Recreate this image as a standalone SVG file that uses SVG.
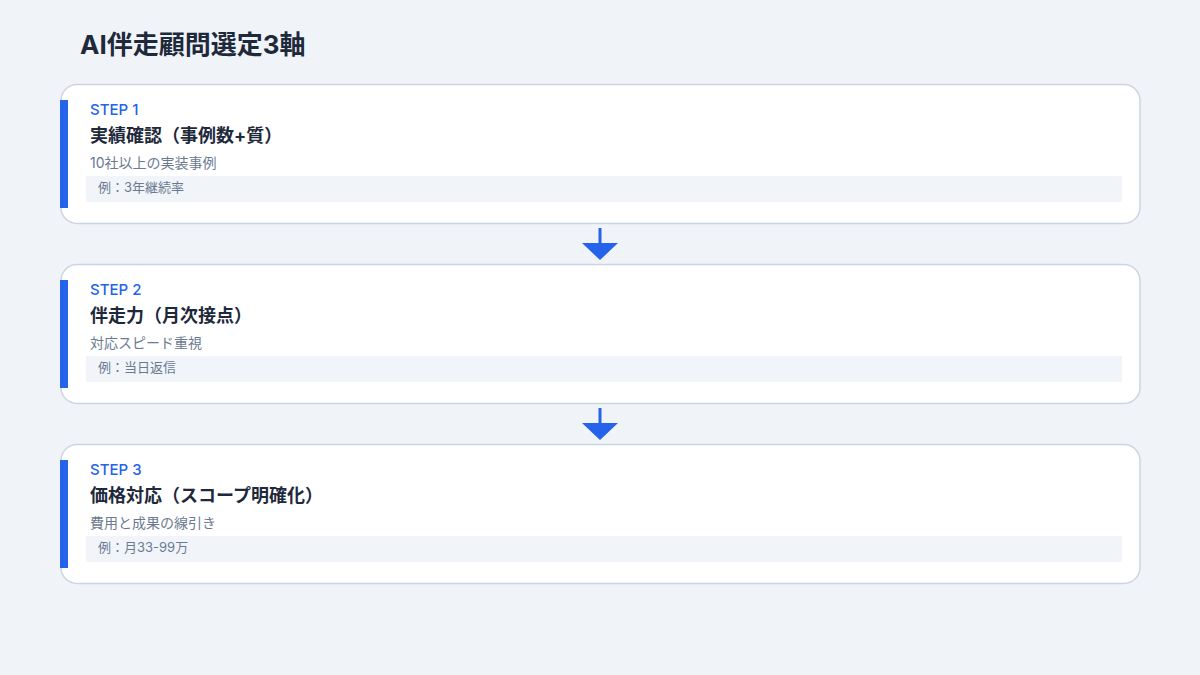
<svg xmlns="http://www.w3.org/2000/svg" width="1200" height="675" viewBox="0 0 1200 675">
<style>
text{font-family:Inter,"Noto Sans CJK JP",sans-serif}
.card{fill:#ffffff;stroke:#cbd5e1;stroke-width:1.5}
.bar{fill:#2563eb}
.ex{fill:#f1f5f9}
.step{font-size:15px;font-weight:500;fill:#2563eb}
.ttl{font-size:18px;font-weight:700;fill:#1e293b}
.sub{font-size:14px;fill:#6b7a90}
.exl{font-size:13px;fill:#6b7a90}
.arr{fill:#2563eb}
</style>
<rect width="1200" height="675" fill="#f0f4f9"/>
<text x="80" y="54" font-size="26" font-weight="700" fill="#1e293b">AI伴走顧問選定3軸</text>
<g id="step1">
<rect class="card" x="61" y="84.5" width="1079" height="139" rx="16"/>
<rect class="bar" x="60" y="100" width="8" height="108"/>
<text class="step" x="90" y="115">STEP 1</text>
<text class="ttl" x="90" y="142">実績確認（事例数+質）</text>
<text class="sub" x="90" y="168">10社以上の実装事例</text>
<rect class="ex" x="86" y="176" width="1036" height="26"/>
<text class="exl" x="98" y="192">例：3年継続率</text>
</g>
<g id="step2">
<rect class="card" x="61" y="264.5" width="1079" height="139" rx="16"/>
<rect class="bar" x="60" y="280" width="8" height="108"/>
<text class="step" x="90" y="295">STEP 2</text>
<text class="ttl" x="90" y="322">伴走力（月次接点）</text>
<text class="sub" x="90" y="348">対応スピード重視</text>
<rect class="ex" x="86" y="356" width="1036" height="26"/>
<text class="exl" x="98" y="372">例：当日返信</text>
</g>
<g id="step3">
<rect class="card" x="61" y="444.5" width="1079" height="139" rx="16"/>
<rect class="bar" x="60" y="460" width="8" height="108"/>
<text class="step" x="90" y="475">STEP 3</text>
<text class="ttl" x="90" y="502">価格対応（スコープ明確化）</text>
<text class="sub" x="90" y="528">費用と成果の線引き</text>
<rect class="ex" x="86" y="536" width="1036" height="26"/>
<text class="exl" x="98" y="552">例：月33-99万</text>
</g>
<g id="connectors">
<rect class="arr" x="598.5" y="228" width="3" height="16"/>
<polygon class="arr" points="582,243 618,243 600,260"/>
<rect class="arr" x="598.5" y="408" width="3" height="16"/>
<polygon class="arr" points="582,423 618,423 600,440"/>
</g>
</svg>
